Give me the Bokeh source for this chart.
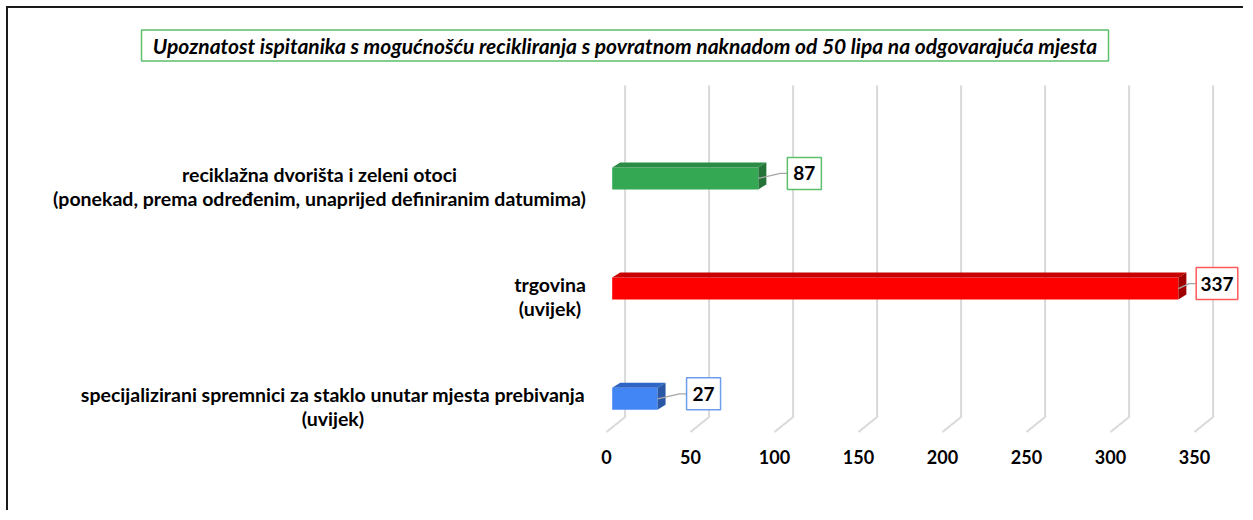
from bokeh.plotting import figure
from bokeh.models import Range1d, FixedTicker
from bokeh.core.properties import value
from bokeh.embed import file_html
from bokeh.resources import INLINE

# ---------------- data ----------------
title_text = ("Upoznatost ispitanika s mogućnošću recikliranja s povratnom "
              "naknadom od 50 lipa na odgovarajuća mjesta")
categories = [
    "specijalizirani spremnici za staklo unutar mjesta prebivanja\n(uvijek)",
    "trgovina\n(uvijek)",
    "reciklažna dvorišta i zeleni otoci\n(ponekad, prema određenim, unaprijed definiranim datumima)",
]
values = [27, 337, 87]
ticks = [0, 50, 100, 150, 200, 250, 300, 350]

front_colors = ["#4285f4", "#ff0000", "#34a853"]
top_colors = ["#2f66c6", "#c80000", "#2b8c45"]
side_colors = ["#2a57a6", "#a00000", "#24743a"]
border_colors = ["#6d9eeb", "#ff5a5a", "#5cbf6c"]

# ---------------- geometry (pixels) ----------------
W, H = 1237, 504
BOTTOM = 72
FH = H - BOTTOM
KX = 1.68            # px per value unit
X0 = 598.0           # frame px of front-floor zero
KY = 110.2           # px per category step
Y0 = 390.3           # frame px (from top) of first category centre


def dx(px):
    return px / KX


def dy(px):
    return px / KY


p = figure(width=W, height=H, output_backend="svg", toolbar_location=None,
           x_range=Range1d(-X0 / KX, (W - X0) / KX),
           y_range=Range1d((Y0 - FH) / KY, Y0 / KY),
           min_border_left=0, min_border_right=0, min_border_top=0,
           min_border_bottom=BOTTOM, y_axis_location=None)
p.outline_line_color = None
p.grid.visible = False
p.background_fill_color = "white"
p.border_fill_color = "white"
p.styles = {"border-left": "2px solid #1a1a1a", "border-top": "2px solid #1a1a1a",
            "margin-left": "6px", "margin-top": "6px"}

# x axis (front floor labels)
ax = p.xaxis[0]
ax.ticker = FixedTicker(ticks=ticks)
ax.axis_line_color = None
ax.major_tick_line_color = None
ax.minor_tick_line_color = None
ax.major_label_standoff = 3
ax.major_label_text_font = "Lato"
ax.major_label_text_font_style = "bold"
ax.major_label_text_font_size = "18px"
ax.major_label_text_color = "#000000"

# back-wall gridlines with perspective foot
BDX, BDY = 18.6, 15.0
g_top = (Y0 - 77) / KY
g_bot = (Y0 - 408.5) / KY
xs = [[t + dx(BDX), t + dx(BDX), t] for t in ticks]
ys = [[g_top, g_bot, g_bot - dy(BDY)] for _ in ticks]
p.multi_line(xs, ys, line_color="#d9d9d9", line_width=2)

# 3D bars
BO = dx(5.7)       # bar front offset from zero
BH = dy(22)        # bar face height
DDX, DDY = dx(8), dy(5)
idx = list(range(len(values)))
left = [BO for _ in values]
right = [BO + v for v in values]
bottom = [i - BH / 2 for i in idx]
top = [i + BH / 2 for i in idx]

p.quad(left=left, right=right, bottom=bottom, top=top,
       fill_color=front_colors, line_color=None)
top_xs = [[l, r, r + DDX, l + DDX] for l, r in zip(left, right)]
top_ys = [[t, t, t + DDY, t + DDY] for t in top]
p.patches(top_xs, top_ys, fill_color=top_colors, line_color=None)
side_xs = [[r, r + DDX, r + DDX, r] for r in right]
side_ys = [[t, t + DDY, b + DDY, b] for t, b in zip(top, bottom)]
p.patches(side_xs, side_ys, fill_color=side_colors, line_color=None)

# data labels with leader lines
BOX_H = 32
lab_x, lab_y, box_w, lead_x, lead_y = [], [], [], [], []
for i, v in enumerate(values):
    bw = 7.6 * len(str(v)) + 18.8
    bar_r_px = X0 + KX * (BO + v)
    box_l_px = bar_r_px + 29
    box_l_px = min(box_l_px, 1229.3 - bw)
    cy = i + dy(5)
    lab_x.append((box_l_px + bw / 2 - X0) / KX)
    lab_y.append(cy)
    box_w.append(bw)
    lead_x.append([BO + v, (box_l_px - 7 - X0) / KX, (box_l_px - X0) / KX])
    lead_y.append([i, cy, cy])

p.multi_line(lead_x, lead_y, line_color="#a6a6a6", line_width=1.3)
p.rect(x=lab_x, y=lab_y, width=box_w, height=BOX_H, width_units="screen",
       height_units="screen", fill_color="white", line_color=border_colors,
       line_width=1.5)
p.text(x=lab_x, y=lab_y, text=[str(v) for v in values], text_align="center",
       text_baseline="middle", text_font=value("Lato"), text_font_style="bold",
       text_font_size="19px", text_color="#000000")

# category labels (centred multi-line blocks, right edge near x=585 page)
LABEL_CX = [332.5, 549.5, 319.0]
cat_x = [(c - 8 - X0) / KX for c in LABEL_CX]
cat_y = [i - dy(8) for i in idx]
p.text(x=cat_x, y=cat_y, text=categories, text_align="center",
       text_baseline="middle", text_font=value("Lato"), text_font_style="bold",
       text_font_size="19.5px", text_color="#000000", text_line_height=1.04)

# title box
t_cx = (624.5 - 8 - X0) / KX
t_cy = (Y0 - 37) / KY
p.rect(x=[t_cx], y=[t_cy], width=967, height=31, width_units="screen",
       height_units="screen", fill_color="white", line_color="#5cbf6c",
       line_width=1.5)
p.text(x=[t_cx], y=[t_cy], text=[title_text], text_align="center",
       text_baseline="middle", text_font=value("Lato"), text_font_style="bold italic",
       text_font_size="21px", text_color="#000000")

open("out.html", "w").write(file_html(p, INLINE))
